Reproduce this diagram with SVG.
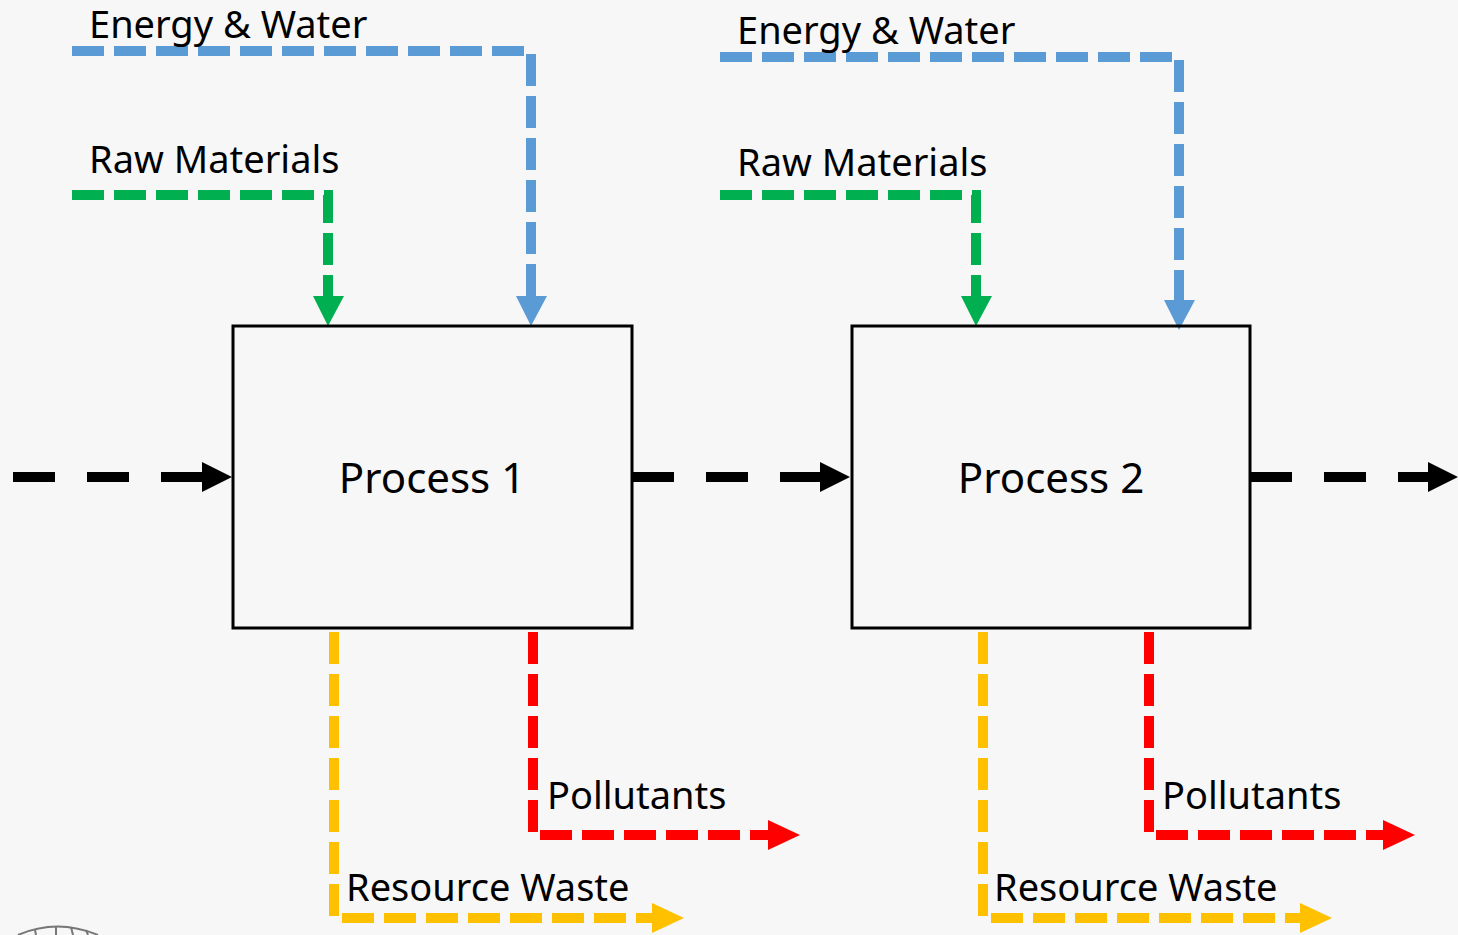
<svg xmlns="http://www.w3.org/2000/svg" width="1458" height="935" viewBox="0 0 1458 935">
<defs>
<style>
text{font-family:"Noto Sans","Open Sans","Liberation Sans",sans-serif;fill:#000}
.lbl{font-size:38px}
.proc{font-size:42px;text-anchor:middle}
.box{fill:none;stroke:#000;stroke-width:3}
.flow{fill:none;stroke-width:10;stroke-dasharray:32 10}
.main{fill:none;stroke:#000;stroke-width:10;stroke-dasharray:42 32}
.blue{stroke:#5b9bd5}
.green{stroke:#00b050}
.yellow{stroke:#ffc000}
.red{stroke:#ff0000}
</style>
</defs>
<rect width="1458" height="935" fill="#f7f7f7"/>
<g id="globe" fill="none" stroke="#777" stroke-width="2">
<path d="M18 935 Q57 918 98 935"/>
<path d="M35 930 L36 935 M56 926 L56 935 M71 927 L73 935 M86 930 L88 935"/>
</g>
<g id="connectors">
<path class="main" d="M13 477 H205"/>
<polygon points="202,462 232,477 202,492" fill="#000"/>
<path class="main" d="M632 477 H822"/>
<polygon points="820,462 850,477 820,492" fill="#000"/>
<path class="main" d="M1250 477 H1430"/>
<polygon points="1428,462 1458,477 1428,492" fill="#000"/>

<path class="flow blue" d="M72 51 H531 V300"/>
<polygon points="516,296 547,296 531,326" fill="#5b9bd5"/>
<path class="flow green" d="M72 195 H328 V300"/>
<polygon points="313,296 344,296 328,326" fill="#00b050"/>
<path class="flow blue" d="M720 57 H1179 V304"/>
<polygon points="1164,300 1195,300 1179,330" fill="#5b9bd5"/>
<path class="flow green" d="M720 195 H976 V300"/>
<polygon points="961,296 992,296 976,326" fill="#00b050"/>

<path class="flow yellow" d="M334 632 V918 H656"/>
<polygon points="652,903 684,918 652,933" fill="#ffc000"/>
<path class="flow red" d="M533 632 V835 H772"/>
<polygon points="768,820 800,835 768,850" fill="#ff0000"/>
<path class="flow yellow" d="M983 632 V918 H1304"/>
<polygon points="1300,903 1332,918 1300,933" fill="#ffc000"/>
<path class="flow red" d="M1149 632 V835 H1387"/>
<polygon points="1383,820 1415,835 1383,850" fill="#ff0000"/>
</g>
<g id="process1">
<rect class="box" x="233" y="326" width="399" height="302"/>
<text class="proc" x="432" y="493">Process 1</text>
</g>
<g id="process2">
<rect class="box" x="852" y="326" width="398" height="302"/>
<text class="proc" x="1051" y="493">Process 2</text>
</g>
<g id="labels">
<text class="lbl" x="89" y="38">Energy &amp; Water</text>
<text class="lbl" x="89" y="173">Raw Materials</text>
<text class="lbl" x="737" y="44">Energy &amp; Water</text>
<text class="lbl" x="737" y="176">Raw Materials</text>
<text class="lbl" x="547" y="809">Pollutants</text>
<text class="lbl" x="346" y="901">Resource Waste</text>
<text class="lbl" x="1162" y="809">Pollutants</text>
<text class="lbl" x="994" y="901">Resource Waste</text>
</g>
</svg>
